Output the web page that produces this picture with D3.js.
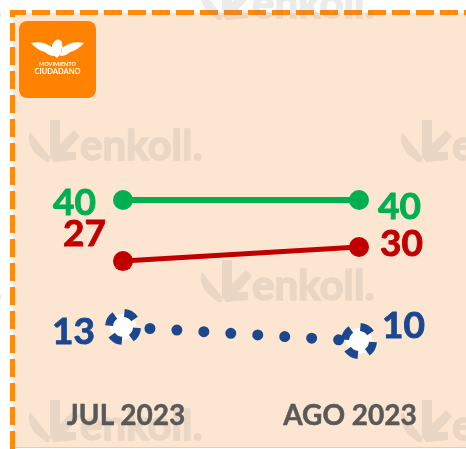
<!DOCTYPE html>
<html>
<head>
<meta charset="utf-8">
<script src="https://cdn.jsdelivr.net/npm/d3@7"></script>
<style>
  body { margin: 0; background: #fff; }
  text { font-family: Lato, "Open Sans", sans-serif; font-weight: 700; }
</style>
</head>
<body>
<script>
// Data
let periods = ["JUL 2023", "AGO 2023"]
let verde = [40, 40]
let rojo = [27, 30]
let azul = [13, 10]

let width = 466, height = 449

let svg = d3.select("body").append("svg")
    .attr("width", width)
    .attr("height", height)

// panel background + dashed orange frame
svg.append("rect")
  .attr("x", 13).attr("y", 13)
  .attr("width", width).attr("height", 434)
  .attr("fill", "#FDE6D1")
svg.append("line")
  .attr("x1", 13).attr("x2", width).attr("y1", 447.5).attr("y2", 447.5)
  .attr("stroke", "#F6C89C").attr("stroke-width", 1)
svg.append("path")
  .attr("d", `M12.5,${height} L12.5,12.5 L${width},12.5`)
  .attr("fill", "none")
  .attr("stroke", "#FF8A0C")
  .attr("stroke-width", 5)
  .attr("stroke-dasharray", "18 6")

// enkoll watermark, repeated
let marks = []
;[18, 160, 300, 440].forEach((by, i) => {
  let start = i % 2 === 0 ? -120 : 80
  for (let x = start; x < width + 60; x += 372) marks.push([x, by])
})
let wm = svg.append("g").attr("fill", "#7d7d7d").attr("opacity", 0.16)
marks.forEach(([x, y]) => {
  let g = wm.append("g").attr("transform", `translate(${x},${y})`)
  g.append("path")
    .attr("d", "M-50,-28 Q-54,-18 -44,-6 L-34,2 L-30,2 L-30,-40 L-20,-40 L-20,-16 L-6,-30 L0,-24 L-14,-8 L-4,-8 L-4,0 L-26,2 Z")
  g.append("text")
    .attr("x", 0).attr("y", 0)
    .attr("font-size", 42)
    .attr("stroke", "#7d7d7d").attr("stroke-width", 1.5)
    .text("enkoll.")
})

// logo box
let logo = svg.append("g").attr("transform", "translate(19,21)")
logo.append("rect")
  .attr("width", 77).attr("height", 77).attr("rx", 8)
  .attr("fill", "#FF8300")
logo.append("path")
  .attr("fill", "#fff")
  .attr("d", "M12,22 Q24,19 34,27 L36,35 Q30,35 26,31 Q18,29 12,22 Z M65,22 Q53,19 43,27 L41,35 Q47,35 51,31 Q59,29 65,22 Z M33,24 Q38,15 43,21 Q45,31 38,37 Q32,33 33,24 Z")
logo.append("text")
  .attr("x", 38.5).attr("y", 45)
  .attr("text-anchor", "middle").attr("font-size", 5.5)
  .attr("fill", "#fff").text("MOVIMIENTO")
logo.append("text")
  .attr("x", 38.5).attr("y", 53)
  .attr("text-anchor", "middle").attr("font-size", 7.5)
  .attr("fill", "#fff").text("CIUDADANO")

// scales
let x = d3.scalePoint().domain(periods).range([123, 359])
let y = d3.scaleLinear().domain([0, 40]).range([388, 200])

let line = d3.line()
  .x((d, i) => x(periods[i]))
  .y(d => y(d))

// label nudges (like the hand-placed labels of the original)
let series = [
  { values: verde, color: "#00B050", width: 6, labelDx: [0, 0], labelDy: [15, 19] },
  { values: rojo, color: "#C00000", width: 5, labelDx: [10, 2], labelDy: [-15, 9] },
  { values: azul, color: "#1C478F", width: 11, labelDx: [-1, 4], labelDy: [17, -3] }
]

// green and red: solid lines with round markers
series.slice(0, 2).forEach(s => {
  svg.append("path")
    .attr("d", line(s.values))
    .attr("fill", "none")
    .attr("stroke", s.color)
    .attr("stroke-width", s.width)
  svg.selectAll(null)
    .data(s.values)
    .enter()
    .append("circle")
    .attr("cx", (d, i) => x(periods[i]))
    .attr("cy", d => y(d))
    .attr("r", 10)
    .attr("fill", s.color)
})

// blue: dotted line, white markers with a dashed ring
let b = series[2]
svg.append("path")
  .attr("d", line(b.values))
  .attr("fill", "none")
  .attr("stroke", b.color)
  .attr("stroke-width", b.width)
  .attr("stroke-linecap", "round")
  .attr("stroke-dasharray", "0 27")
let bm = svg.selectAll(null)
  .data(b.values)
  .enter()
  .append("g")
  .attr("transform", (d, i) => `translate(${x(periods[i])},${y(d)})`)
bm.append("circle").attr("r", 13).attr("fill", "#fff")
bm.append("circle")
  .attr("r", 14)
  .attr("fill", "none")
  .attr("stroke", b.color)
  .attr("stroke-width", 8)
  .attr("stroke-dasharray", "12 9.99")
  .attr("transform", "rotate(4)")

// value labels
series.forEach(s => {
  svg.selectAll(null)
    .data(s.values)
    .enter()
    .append("text")
    .attr("x", (d, i) => x(periods[i]) + (i === 0 ? -27 : 19) + s.labelDx[i])
    .attr("y", (d, i) => y(d) + s.labelDy[i])
    .attr("text-anchor", (d, i) => i === 0 ? "end" : "start")
    .attr("font-size", 37)
    .attr("fill", s.color)
    .attr("stroke", s.color).attr("stroke-width", 0.9)
    .text(d => d)
})

// category labels
svg.selectAll(null)
  .data(periods)
  .enter()
  .append("text")
  .attr("x", (d, i) => x(d) + (i === 0 ? 3 : -9))
  .attr("y", 425)
  .attr("text-anchor", "middle")
  .attr("font-size", 28)
  .attr("fill", "#595959")
  .attr("stroke", "#595959").attr("stroke-width", 0.5)
  .text(d => d)
</script>
</body>
</html>
